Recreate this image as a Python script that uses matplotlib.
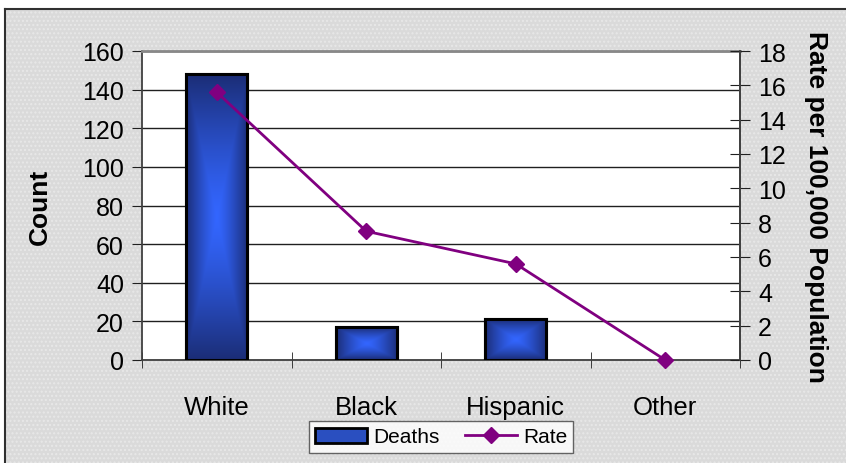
import numpy as np
import matplotlib
matplotlib.use("Agg")
import matplotlib.pyplot as plt
from matplotlib.patches import Rectangle
from matplotlib.lines import Line2D
from matplotlib.legend_handler import HandlerPatch

plt.rcParams["font.family"] = ["Liberation Sans", "DejaVu Sans"]

categories = ["White", "Black", "Hispanic", "Other"]
deaths = [148, 17, 21, 0]
rate = [15.6, 7.5, 5.6, 0.0]
count_ticks = [0, 20, 40, 60, 80, 100, 120, 140, 160]
rate_ticks = [0, 2, 4, 6, 8, 10, 12, 14, 16, 18]

W, H = 846, 464
fig = plt.figure(figsize=(W / 100, H / 100), dpi=100)
fig.patch.set_facecolor("white")

# chart area: light gray with a fine dotted texture and a dark frame
fig.patches.append(Rectangle((5 / W, 0), 1, 1 - 10 / H, transform=fig.transFigure,
                             facecolor="#dadada", edgecolor="none", zorder=-10))
fig.patches.append(Rectangle((5 / W, 0), 1, 1 - 10 / H, transform=fig.transFigure,
                             facecolor="none", edgecolor="#e8e8e8", hatch="....",
                             linewidth=0, zorder=-9))
fig.add_artist(Line2D([5 / W, 5 / W], [0, 1 - 10 / H], color="#303030", lw=1.5))
fig.add_artist(Line2D([5 / W, 1], [1 - 10 / H, 1 - 10 / H], color="#303030", lw=1.5))

ax = fig.add_axes([142 / W, 1 - 361 / H, (740 - 142) / W, (361 - 52) / H])
ax.set_facecolor("white")
x = np.arange(len(categories))

bar_w = 0.41
bars = ax.bar(x, deaths, width=bar_w, color="#2a4fc0", edgecolor="black",
              linewidth=2.2, zorder=3)

# rectangular "from center" gradient inside each bar
dark = np.array([0x1b, 0x2d, 0x76]) / 255.0
light = np.array([0x33, 0x66, 0xff]) / 255.0
n = 200
u = np.linspace(-1, 1, n)
for b in bars:
    if b.get_height() <= 0:
        b.set_edgecolor("none")
        continue
    X, Y = np.meshgrid(u, u)
    d = np.maximum(np.abs(X), np.abs(Y))
    t = np.clip(d, 0, 1) ** 1.3
    img = light[None, None, :] * (1 - t[..., None]) + dark[None, None, :] * t[..., None]
    x0, y0 = b.get_x(), b.get_y()
    im = ax.imshow(img, extent=[x0, x0 + b.get_width(), y0, y0 + b.get_height()],
                   aspect="auto", zorder=3.5, interpolation="bilinear")
    im.set_clip_path(b)
    frame = Rectangle((x0, y0), b.get_width(), b.get_height(), facecolor="none",
                      edgecolor="black", linewidth=2.2, zorder=3.6)
    ax.add_patch(frame)

ax.set_xlim(-0.5, len(categories) - 0.5)
ax.set_ylim(0, 160)
ax.set_yticks(count_ticks)
ax.set_yticklabels([str(v) for v in count_ticks], fontsize=18)
ax.set_xticks(x)
ax.set_xticklabels(categories, fontsize=18.5)
ax.tick_params(axis="x", length=0, pad=25)
ax.set_xticks(np.arange(len(categories) + 1) - 0.5, minor=True)
ax.tick_params(axis="x", which="minor", length=12, direction="inout", color="#202020")
ax.tick_params(axis="y", length=7, direction="out", color="#202020", pad=6)
ax.yaxis.grid(True, color="#202020", linewidth=1.0, zorder=1)
ax.set_axisbelow(True)
for s in ax.spines.values():
    s.set_color("#404040")
    s.set_linewidth(1.3)
ax.spines["top"].set_color("#888888")
ax.spines["top"].set_linewidth(2)
ax.set_ylabel("Count", fontsize=19, fontweight="bold", labelpad=22)

ax2 = ax.twinx()
line, = ax2.plot(x, rate, color="#800080", linewidth=2, marker="D",
                 markersize=8, zorder=5, clip_on=False)
ax2.set_ylim(0, 18)
ax2.set_yticks(rate_ticks)
ax2.set_yticklabels([str(v) for v in rate_ticks], fontsize=18)
ax2.tick_params(axis="y", length=14, direction="inout", color="#202020", pad=6)
for s in ax2.spines.values():
    s.set_visible(False)
ax2.spines["right"].set_visible(True)
ax2.spines["right"].set_color("#404040")
ax2.spines["right"].set_linewidth(1.3)
ax2.set_ylabel("Rate per 100,000 Population", fontsize=19, fontweight="bold",
               rotation=-90, labelpad=30)


class GradientBarHandler(HandlerPatch):
    def create_artists(self, legend, orig_handle, xdescent, ydescent, width,
                       height, fontsize, trans):
        r = Rectangle((-xdescent, -ydescent), width, height, facecolor="#2a4fc0",
                      edgecolor="black", linewidth=2, transform=trans)
        return [r]


leg = fig.legend([bars, line], ["Deaths", "Rate"], loc="center",
                 bbox_to_anchor=(441 / W, 1 - 438 / H), ncol=2, fontsize=15,
                 frameon=True, fancybox=False, edgecolor="#404040",
                 handler_map={bars: GradientBarHandler()},
                 handlelength=2.5, handletextpad=0.3, columnspacing=1.2,
                 borderpad=0.3, borderaxespad=0.3)
leg.get_frame().set_linewidth(1.0)

fig.savefig("out.png", dpi=100)
